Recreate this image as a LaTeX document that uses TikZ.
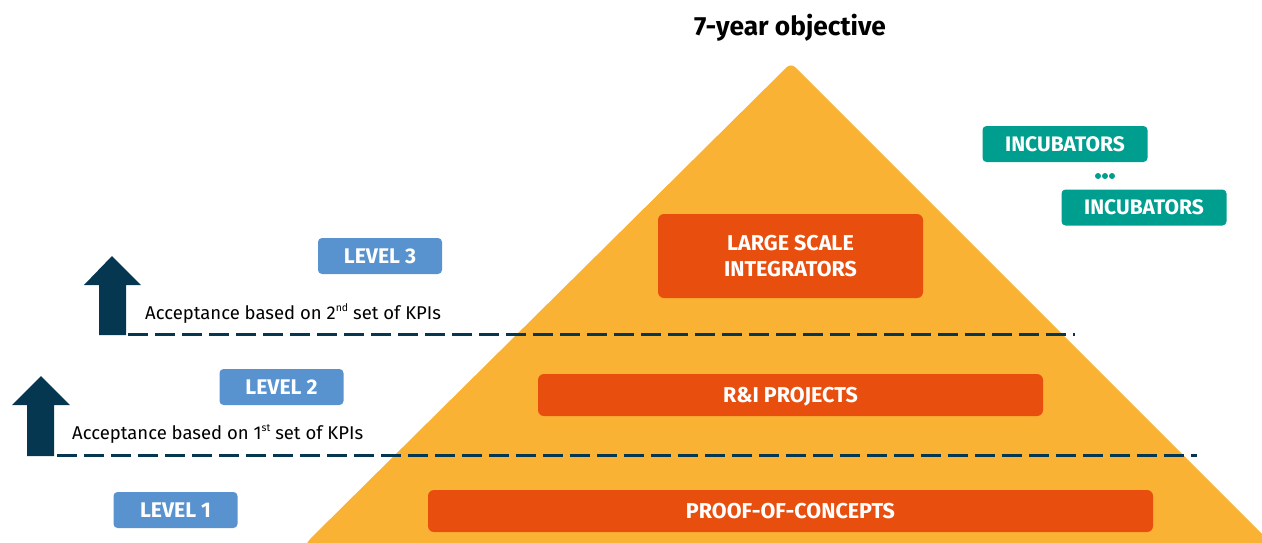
\documentclass[tikz,border=0pt]{standalone}
\usepackage{fontspec}
\setmainfont{Fira Sans}
\definecolor{pyr}{HTML}{F9B233}
\definecolor{obox}{HTML}{E84E0E}
\definecolor{bbox}{HTML}{5993CF}
\definecolor{tbox}{HTML}{009E8F}
\definecolor{navy}{HTML}{063750}
\newcommand\mysup[1]{\raisebox{0.75ex}{\fontsize{10.5}{11}\selectfont #1}}
\begin{document}
\begin{tikzpicture}[x=1pt,y=-1pt,
  capc/.style={text height=14.6pt,text depth=0pt},
  lvl/.style={capc,fill=bbox,rounded corners=4pt,minimum width=124pt,minimum height=36pt,inner sep=0pt,text=white,font=\fontsize{21.2}{24}\selectfont\bfseries},
  ob/.style={fill=obox,rounded corners=6pt,inner sep=0pt,text=white,align=center,font=\fontsize{21.5}{26}\selectfont\bfseries},
  inc/.style={capc,fill=tbox,rounded corners=4pt,minimum width=165pt,minimum height=36pt,inner sep=0pt,text=white,font=\fontsize{21}{24}\selectfont\bfseries},
  acc/.style={anchor=base west,inner sep=0pt,font=\fontsize{18.5}{22}\selectfont},
  dline/.style={draw=navy,line width=3pt,dash pattern=on 20pt off 7pt},
  uparrow/.style={fill=navy}]
\useasboundingbox (0,0) rectangle (1262,542);
\clip (0,0) rectangle (1262,542);
% pyramid
\fill[pyr,rounded corners=6pt] (791,63) -- (1282,554) -- (1262,560) -- (300,560) -- (307,542) -- cycle;
\fill[pyr] (300,548) rectangle (1262,560);
% title
\node[font=\fontsize{26.3}{30}\selectfont\bfseries] (title) at (790,28) {7-year objective};
% orange boxes
\node[ob,minimum width=265pt,minimum height=84pt] (lsi) at (790.5,256) {LARGE SCALE\\INTEGRATORS};
\node[ob,capc,minimum width=505pt,minimum height=42pt] (ri) at (790.5,395) {R\&I PROJECTS};
\node[ob,capc,minimum width=725pt,minimum height=42pt] (poc) at (790.5,511) {PROOF-OF-CONCEPTS};
% levels
\node[lvl] (l3) at (380,256) {LEVEL 3};
\node[lvl] (l2) at (281.5,387) {LEVEL 2};
\node[lvl] (l1) at (175.5,510) {LEVEL 1};
% incubators
\node[inc] (inc1) at (1065,144) {INCUBATORS};
\node[inc] (inc2) at (1144,207.5) {INCUBATORS};
\foreach \i in {-7,0,7}{\fill[tbox] (1105+\i,176) circle (3pt);}
% arrows
\fill[uparrow] (112,256) -- (141,285) -- (126,285) -- (126,335) -- (99,335) -- (99,285) -- (84,285) -- cycle;
\fill[uparrow] (41,376) -- (70,405) -- (54,405) -- (54,456) -- (27,456) -- (27,405) -- (12,405) -- cycle;
% dashed lines
\coordinate (d2a) at (128,334);
\coordinate (d2b) at (1075,334);
\coordinate (d1a) at (57,455);
\coordinate (d1b) at (1197,455);
\draw[dline] (d2a) -- (d2b);
\draw[dline] (d1a) -- (d1b);
% acceptance texts
\node[acc] (acc2) at (145,319) {Acceptance based on 2\mysup{nd} set of KPIs};
\node[acc] (acc1) at (72,439) {Acceptance based on 1\mysup{st} set of KPIs};
\end{tikzpicture}
\end{document}
